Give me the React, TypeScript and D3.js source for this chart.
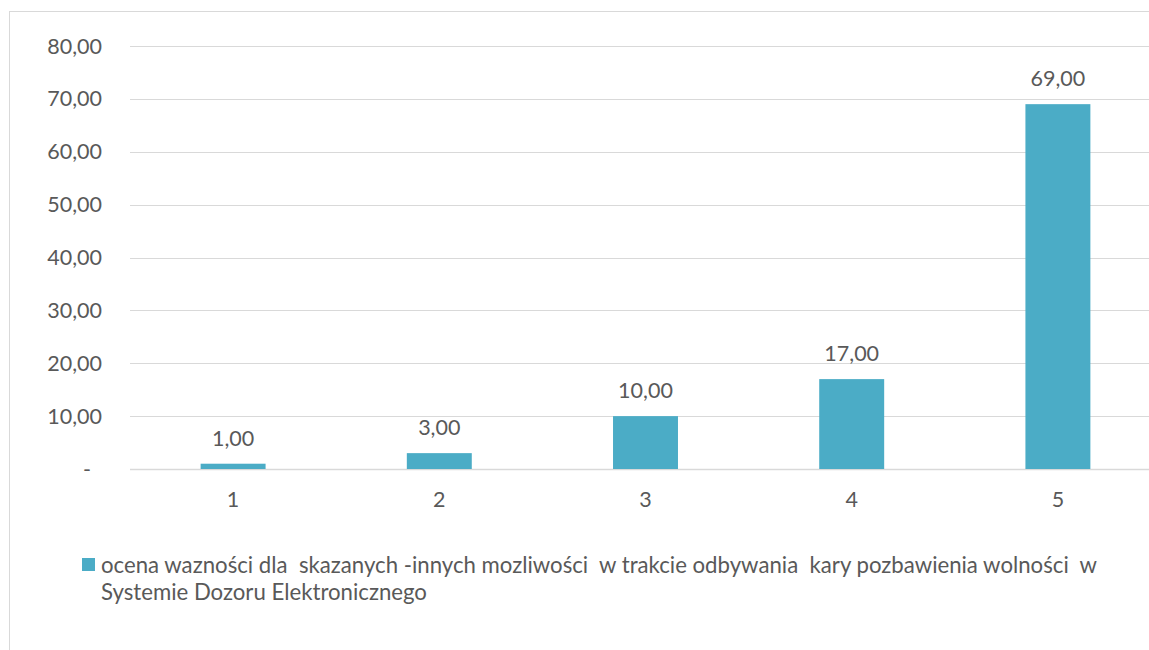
import React from 'react';
import * as d3 from 'd3';

const categories = ['1', '2', '3', '4', '5'];
const values = [1, 3, 10, 17, 69];
const yTicks = [0, 10, 20, 30, 40, 50, 60, 70, 80];
const legendLines = [
  'ocena wazności dla  skazanych -innych mozliwości  w trakcie odbywania  kary pozbawienia wolności  w',
  'Systemie Dozoru Elektronicznego',
];

const BAR = '#4BACC6';
const TEXT = '#595959';
const GRID = '#d9d9d9';
const FONT = 'Lato, "Open Sans", sans-serif';
const FS = 21.5;

const fmt = (v: number) => (v === 0 ? '-' : d3.format('.2f')(v).replace('.', ','));

const App: React.FC = () => {
  const W = 1149;
  const H = 650;
  const plot = { left: 130, right: 1161, top: 46, bottom: 469 };

  const x = d3.scaleBand<string>()
    .domain(categories)
    .range([plot.left, plot.right])
    .paddingInner(0.685)
    .paddingOuter(0.3425);

  const y = d3.scaleLinear().domain([0, 80]).range([plot.bottom, plot.top]);

  return (
    <svg width={W} height={H} style={{ position: 'absolute', left: 0, top: 0, display: 'block' }}
      fontFamily={FONT}>
      <rect x={0} y={0} width={W} height={H} fill="#fff" />
      {/* chart frame */}
      <rect x={9.5} y={11.5} width={W + 20} height={H + 20} fill="none" stroke={GRID} strokeWidth={1} />

      {/* gridlines + y labels */}
      {yTicks.map(t => (
        <g key={t}>
          <line x1={plot.left} x2={W} y1={Math.round(y(t)) + 0.5} y2={Math.round(y(t)) + 0.5}
            stroke={GRID} strokeWidth={t === 0 ? 1.5 : 1} />
          <text x={t === 0 ? 91 : 102} y={y(t)} dy="0.35em" textAnchor="end" fontSize={FS} fill={TEXT}>
            {fmt(t)}
          </text>
        </g>
      ))}

      {/* bars */}
      {values.map((v, i) => (
        <rect key={i} x={x(categories[i])} y={y(v)} width={x.bandwidth()} height={y(0) - y(v)} fill={BAR} />
      ))}

      {/* value labels */}
      {values.map((v, i) => (
        <text key={'v' + i} x={(x(categories[i]) as number) + x.bandwidth() / 2} y={y(v) - 18}
          textAnchor="middle" fontSize={FS} fill={TEXT}>
          {fmt(v)}
        </text>
      ))}

      {/* x labels */}
      {categories.map(c => (
        <text key={c} x={(x(c) as number) + x.bandwidth() / 2} y={plot.bottom + 38}
          textAnchor="middle" fontSize={FS} fill={TEXT}>
          {c}
        </text>
      ))}

      {/* legend */}
      <rect x={82} y={558} width={13} height={13} fill={BAR} />
      {legendLines.map((l, i) => (
        <text key={i} x={101} y={573 + i * 27} fontSize={22.2} fill={TEXT} style={{ whiteSpace: 'pre' }}>
          {l}
        </text>
      ))}
    </svg>
  );
};

export default App;
